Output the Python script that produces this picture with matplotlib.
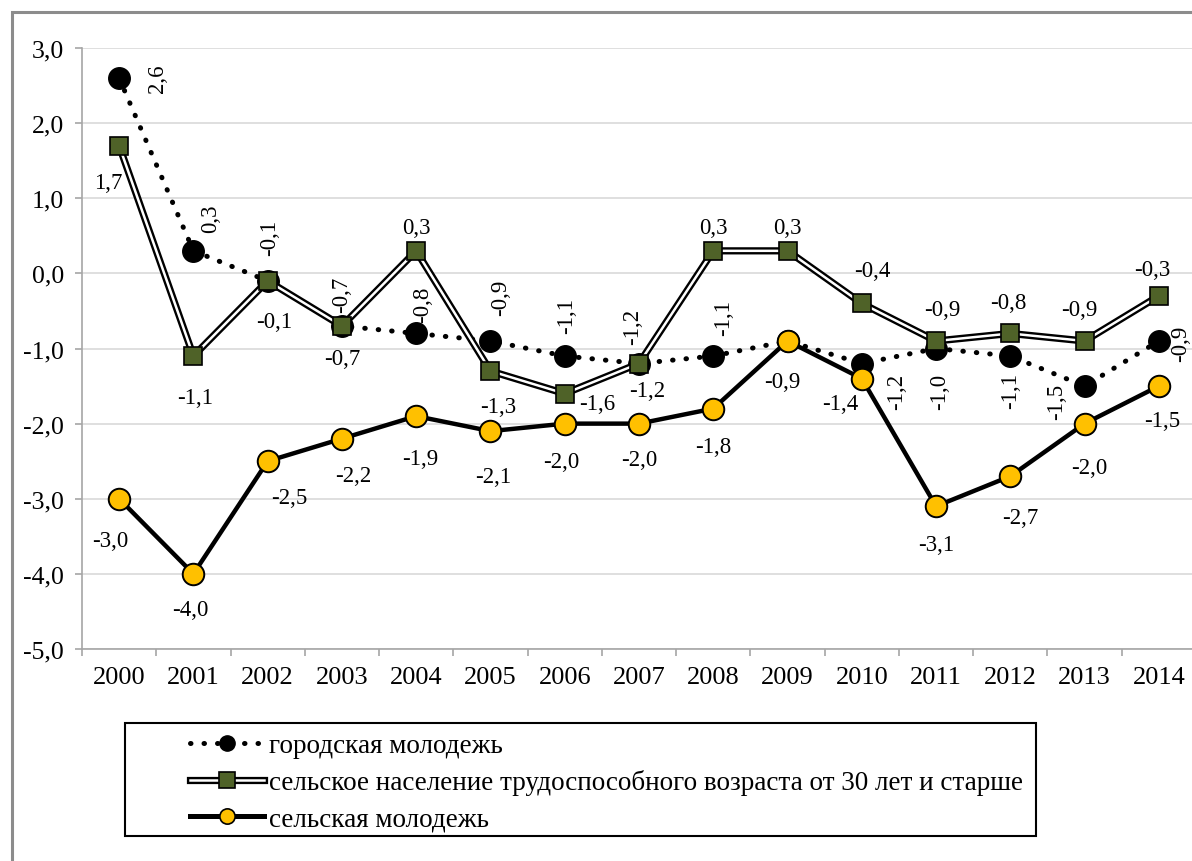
import numpy as np
import matplotlib
matplotlib.use("Agg")
import matplotlib.pyplot as plt
from matplotlib.lines import Line2D
from matplotlib.patches import Rectangle

plt.rcParams['font.family'] = ['Liberation Serif', 'DejaVu Serif']

years = ['2000', '2001', '2002', '2003', '2004', '2005', '2006', '2007',
         '2008', '2009', '2010', '2011', '2012', '2013', '2014']
city_youth = [2.6, 0.3, -0.1, -0.7, -0.8, -0.9, -1.1, -1.2, -1.1, -0.9, -1.2, -1.0, -1.1, -1.5, -0.9]
rural_30plus = [1.7, -1.1, -0.1, -0.7, 0.3, -1.3, -1.6, -1.2, 0.3, 0.3, -0.4, -0.9, -0.8, -0.9, -0.3]
rural_youth = [-3.0, -4.0, -2.5, -2.2, -1.9, -2.1, -2.0, -2.0, -1.8, -0.9, -1.4, -3.1, -2.7, -2.0, -1.5]
series_names = ['городская молодежь',
                'сельское население трудоспособного возраста от 30 лет и старше',
                'сельская молодежь']

# label offsets in pixels (dx right, dy down); None = label hidden
city_off = [(38, 0), (17, -33), (2, -44), (0, -32), (6, -30), (10, -44), (2, -41), (-6, -38),
            (10, -39), None, (35, 27), (4, 42), (0, 34), (-28, 15), (22, 2)]
sq_off = [(-11, 37), (2, 41), (7, 41), (0, 33), (0, -23), (8, 35), (32, 10), (8, 27),
          (0, -23), (0, -23), (11, -33), (6, -31), (-2, -31), (-5, -31), (-7, -26)]
yel_off = [(-9, 42), (-3, 36), (22, 36), (11, 37), (4, 42), (3, 45), (-3, 38), (0, 36),
           (0, 38), (-5, 41), (-22, 25), (0, 38), (10, 41), (5, 44), (3, 34)]

W, H = 1192, 862
fig = plt.figure(figsize=(W / 100, H / 100), dpi=100)
ax = fig.add_axes([82 / W, 212 / H, 1114 / W, 601 / H])
x = np.arange(len(years))

GREEN = '#4f6228'
YELLOW = '#ffc000'

# city youth: dotted line with black circles
ax.plot(x, city_youth, color='black', lw=3.6, ls=(0, (0.1, 2.6)),
        dash_capstyle='round', marker='o', ms=15.5, mfc='black', mec='black', zorder=3)
# rural 30+: double line with green squares
ax.plot(x, rural_30plus, color='black', lw=5.2, solid_joinstyle='miter', zorder=4)
ax.plot(x, rural_30plus, color='white', lw=1.8, solid_joinstyle='miter', zorder=4.1)
ax.plot(x, rural_30plus, ls='none', marker='s', ms=12.5, mfc=GREEN, mec='black', mew=1.2, zorder=4.2)
# rural youth: solid line with yellow circles
ax.plot(x, rural_youth, color='black', lw=3.2, marker='o', ms=15.5, mfc=YELLOW,
        mec='black', mew=1.4, zorder=5)

def fmt(v):
    return f"{v:.1f}".replace('.', ',')

LBL = 16.5
for xi, v, off in zip(x, city_youth, city_off):
    if off is None:
        continue
    ax.annotate(fmt(v), (xi, v), xytext=(off[0], -off[1]), textcoords='offset pixels',
                ha='center', va='center', rotation=90, fontsize=LBL, zorder=6)
for xi, v, off in zip(x, rural_30plus, sq_off):
    ax.annotate(fmt(v), (xi, v), xytext=(off[0], -off[1]), textcoords='offset pixels',
                ha='center', va='center', fontsize=LBL, zorder=6)
for xi, v, off in zip(x, rural_youth, yel_off):
    ax.annotate(fmt(v), (xi, v), xytext=(off[0], -off[1]), textcoords='offset pixels',
                ha='center', va='center', fontsize=LBL, zorder=6)

ax.set_xlim(-0.5, len(years) - 0.5)
ax.set_ylim(-5, 3)
ax.set_yticks(np.arange(-5, 3.01, 1.0))
ax.set_yticklabels([fmt(v) for v in np.arange(-5, 3.01, 1.0)], fontsize=18.5)
ax.set_xticks(x)
ax.set_xticklabels(years, fontsize=19)
ax.set_xticks(np.arange(-0.5, len(years), 1.0), minor=True)
ax.tick_params(axis='x', which='major', length=0, pad=12)
ax.tick_params(axis='x', which='minor', length=5, width=1.2, color='#a6a6a6', direction='out')
ax.tick_params(axis='y', length=5, width=1.2, color='#a6a6a6', pad=8)
ax.grid(axis='y', color='#d9d9d9', lw=1.2, zorder=0)
ax.set_axisbelow(True)
for s in ['top', 'right']:
    ax.spines[s].set_visible(False)
for s in ['left', 'bottom']:
    ax.spines[s].set_color('#a6a6a6')
    ax.spines[s].set_linewidth(1.2)

# outer chart frame
fig.patches.append(Rectangle((12 / W, -0.1), 1.2, (H - 13) / H + 0.1, transform=fig.transFigure,
                             fill=False, ec='#8c8c8c', lw=2.2, zorder=0))
# legend frame
fig.patches.append(Rectangle((125 / W, 1 - 837 / H), (1036 - 125) / W, (837 - 724) / H,
                             transform=fig.transFigure, fill=False, ec='black', lw=1.5, zorder=1))

h_city = Line2D([], [], color='black', lw=3.6, ls=(0, (0.1, 2.6)), dash_capstyle='round',
                marker='o', ms=11, mfc='black', mec='black')
h_sq = (Line2D([], [], color='black', lw=5.2),
        Line2D([], [], color='white', lw=1.8),
        Line2D([], [], ls='none', marker='s', ms=11, mfc=GREEN, mec='black', mew=1.2))
h_yel = Line2D([], [], color='black', lw=3.6, marker='o', ms=11, mfc=YELLOW, mec='black', mew=1.2)

fig.legend([h_city, h_sq, h_yel], series_names, loc='upper left',
           bbox_to_anchor=(190 / W, 1 - 734 / H), frameon=False, handlelength=2.75,
           handletextpad=0.18, labelspacing=0.42, borderpad=0, borderaxespad=0,
           prop={'family': ['Liberation Serif'], 'size': 19.5})

fig.savefig('out.png', dpi=100)
